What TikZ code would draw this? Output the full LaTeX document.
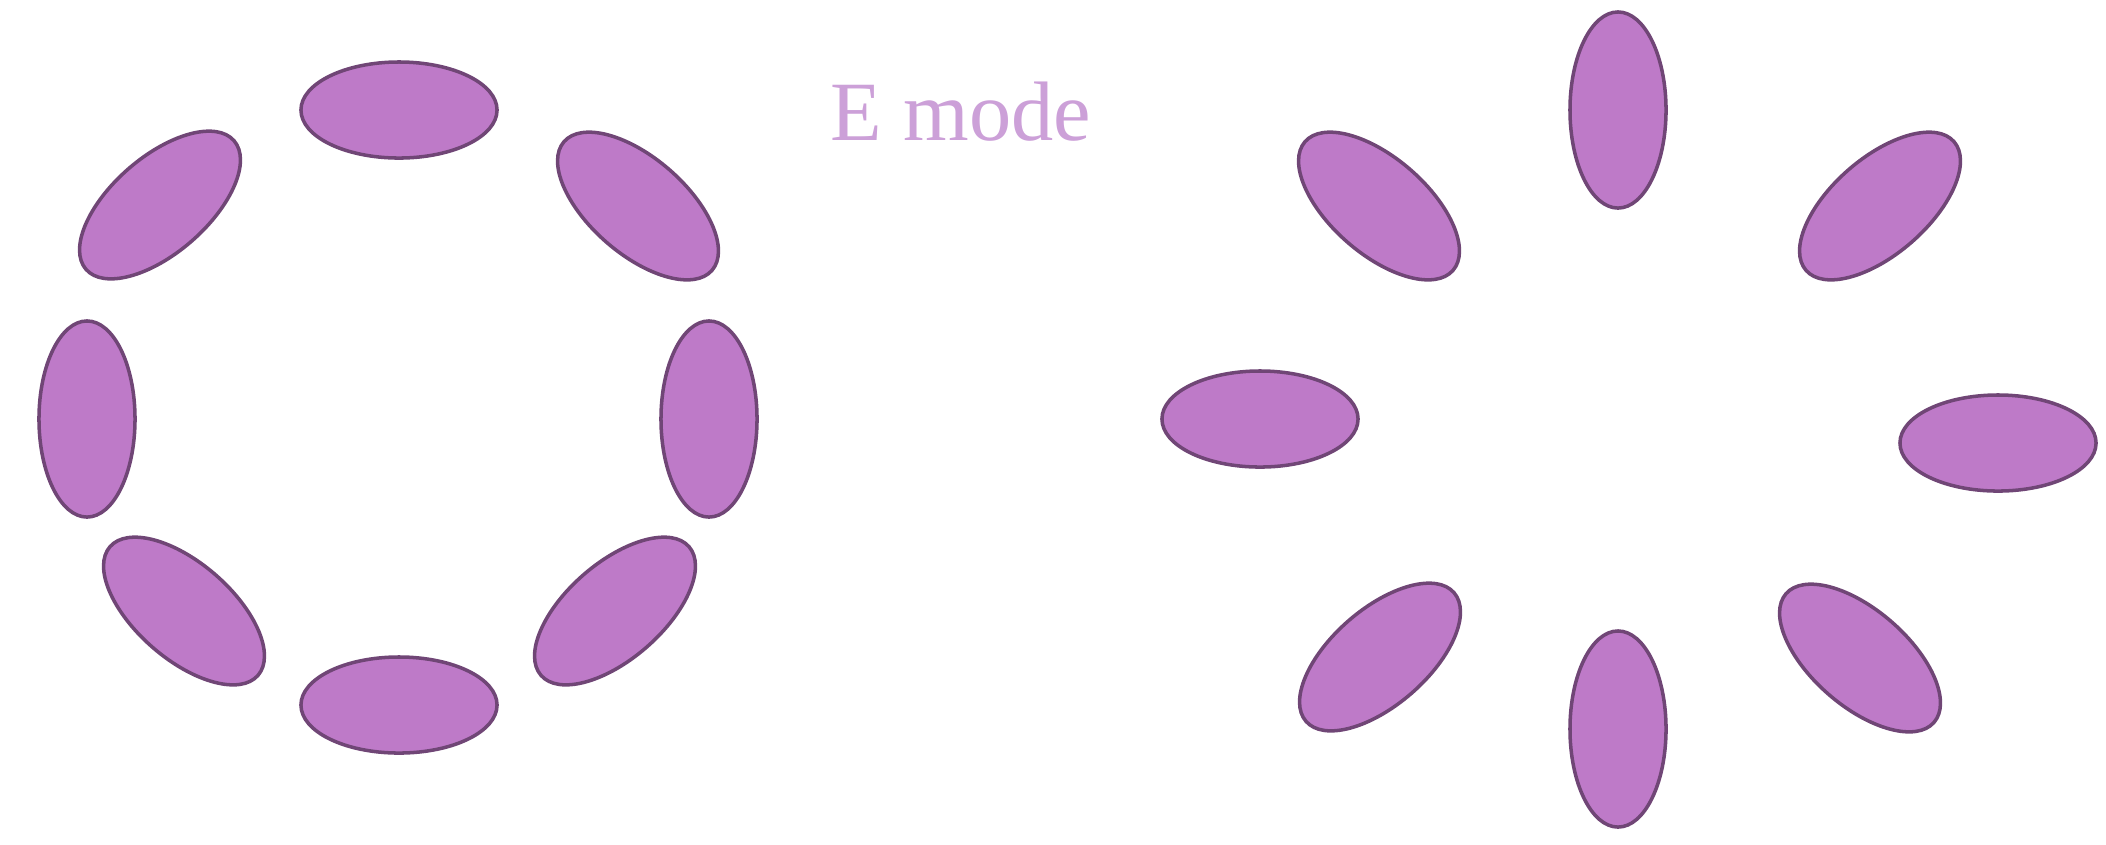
\documentclass[tikz,border=0pt]{standalone}
\usepackage{fontspec}
\setmainfont{Liberation Serif}
\usetikzlibrary{shapes.geometric}
\definecolor{petalfill}{RGB}{190,122,200}
\definecolor{petaldraw}{RGB}{112,70,118}
\definecolor{modetext}{RGB}{204,160,216}
\tikzset{
  petal/.style={ellipse,draw=petaldraw,fill=petalfill,line width=1pt,
    minimum width=1.96cm,minimum height=0.96cm,inner sep=0pt}
}
\begin{document}
\begin{tikzpicture}[x=0.01cm,y=-0.01cm]
\useasboundingbox (0,0) rectangle (2106,844);
% ring of petals lying along the circle
\foreach \n/\px/\py/\ang in {t/399/110/0, b/399/705/0, l/87/419/90, r/709/419/90,
    tl/160/205/41, tr/638/206/-41, bl/184/611/-41, br/615/611/41}
  \node[petal,rotate=\ang] (ring-\n) at (\px,\py) {};
% star of petals pointing outwards
\foreach \n/\px/\py/\ang in {t/1618/110/90, b/1618/729/90, l/1260/419/0, r/1998/443/0,
    tl/1379/206/-41, tr/1880/206/41, bl/1380/657/41, br/1860/658/-41}
  \node[petal,rotate=\ang] (star-\n) at (\px,\py) {};
\node[text=modetext,font=\fontsize{24}{28}\selectfont] (mode) at (961,112) {E mode};
\end{tikzpicture}
\end{document}
